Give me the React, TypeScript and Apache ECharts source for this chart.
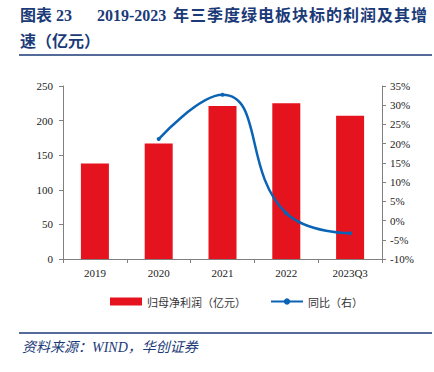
import React, { useEffect, useRef } from "react";
import * as echarts from "echarts";

const categories = ["2019", "2020", "2021", "2022", "2023Q3"];
const profit = [138, 167, 221, 225, 207];
const yoy = [null, 21.2, 32.7, 1.9, -3.3];
const titleHead = "图表 23";
const titleYears = "2019-2023";
const titleRest = "年三季度绿电板块标的利润及其增";
const titleLine2 = "速（亿元）";
const sourceText = "资料来源：WIND，华创证券";

const NAVY = "#1b3a78";
const serif = "'Liberation Serif', 'DejaVu Serif', serif";
const cjk = "'Noto Sans CJK SC', sans-serif";
const titleFont = `'Liberation Serif', 'Noto Sans CJK SC'`;

function titleText(text: string, left: number, top: number) {
  return {
    type: "text",
    left,
    top,
    style: { text, fontFamily: titleFont, fontWeight: "bold", fontSize: 16, fill: NAVY },
  };
}

export default function App() {
  const ref = useRef<HTMLDivElement>(null);
  useEffect(() => {
    if (!ref.current) return;
    const chart = echarts.init(ref.current, undefined, { renderer: "svg" });
    const restChars = Array.from(titleRest);
    const step = (428 - 173) / restChars.length;
    const restEls = restChars.map((c, i) => titleText(c, 173 + i * step, 7));
    chart.setOption({
      animation: false,
      backgroundColor: "#ffffff",
      grid: { left: 63, right: 52, top: 86, bottom: 113, containLabel: false },
      graphic: [
        titleText(titleHead, 20, 7),
        titleText(titleYears, 97, 7),
        ...restEls,
        titleText(titleLine2, 20, 33),
        {
          type: "line",
          shape: { x1: 19, y1: 55, x2: 432, y2: 55 },
          style: { stroke: NAVY, lineWidth: 1.5 },
        },
        {
          type: "line",
          shape: { x1: 19, y1: 333, x2: 432, y2: 333 },
          style: { stroke: NAVY, lineWidth: 1.5 },
        },
        {
          type: "text",
          left: 22,
          top: 340,
          style: {
            text: sourceText,
            fontFamily: titleFont,
            fontStyle: "italic",
            fontSize: 14,
            fill: NAVY,
          },
        },
      ],
      legend: {
        top: 291,
        left: 105,
        itemGap: 24,
        itemWidth: 32,
        itemHeight: 8,
        textStyle: { fontFamily: cjk, fontSize: 11, color: "#333" },
        data: [
          { name: "归母净利润（亿元）", icon: "rect" },
          { name: "同比（右）" },
        ],
      },
      xAxis: {
        type: "category",
        data: categories,
        axisLine: { lineStyle: { color: "#808080", width: 1 } },
        axisTick: { show: true, length: 4, lineStyle: { color: "#808080" } },
        axisLabel: { fontFamily: serif, fontSize: 11, color: "#222", margin: 8 },
      },
      yAxis: [
        {
          type: "value",
          min: 0,
          max: 250,
          interval: 50,
          splitLine: { show: false },
          axisLine: { show: true, lineStyle: { color: "#808080" } },
          axisTick: { show: true, length: 4, lineStyle: { color: "#808080" } },
          axisLabel: { fontFamily: serif, fontSize: 11, color: "#222", margin: 10 },
        },
        {
          type: "value",
          min: -10,
          max: 35,
          interval: 5,
          splitLine: { show: false },
          axisLine: { show: true, lineStyle: { color: "#808080" } },
          axisTick: { show: true, length: 4, lineStyle: { color: "#808080" } },
          axisLabel: {
            fontFamily: serif,
            fontSize: 11,
            color: "#222",
            margin: 8,
            formatter: "{value}%",
          },
        },
      ],
      series: [
        {
          name: "归母净利润（亿元）",
          type: "bar",
          data: profit,
          barWidth: 28,
          itemStyle: { color: "#e5131d" },
        },
        {
          name: "同比（右）",
          type: "line",
          yAxisIndex: 1,
          data: yoy,
          smooth: 0.5,
          symbol: "circle",
          symbolSize: 4,
          showSymbol: true,
          lineStyle: { color: "#0b63b5", width: 2.5 },
          itemStyle: { color: "#0b63b5" },
        },
      ],
    });
    return () => chart.dispose();
  }, []);
  return (
    <div
      ref={ref}
      style={{ position: "fixed", left: 0, top: 0, width: 434, height: 372 }}
    />
  );
}
